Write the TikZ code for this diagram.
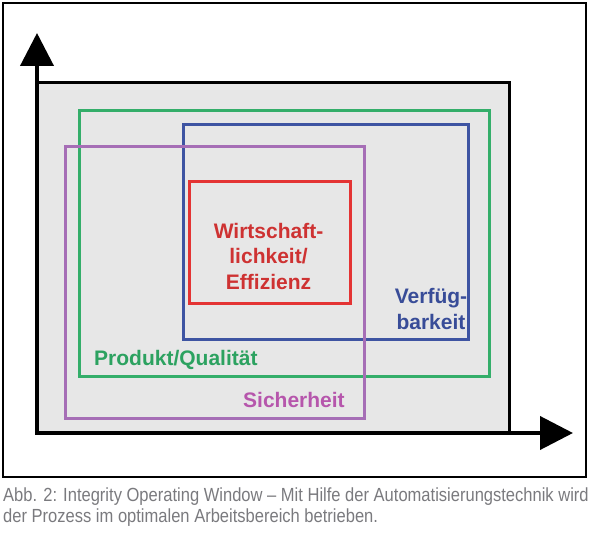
\documentclass[tikz,border=0pt]{standalone}
\usepackage{fontspec}
\setmainfont{Liberation Sans}
\newfontfamily\capfont[FakeStretch=0.87]{Liberation Sans}
\usetikzlibrary{arrows.meta}
\definecolor{gruen}{RGB}{52,174,106}
\definecolor{gruentext}{RGB}{44,162,96}
\definecolor{blau}{RGB}{62,84,162}
\definecolor{blautext}{RGB}{56,76,152}
\definecolor{lila}{RGB}{166,110,182}
\definecolor{lilatext}{RGB}{182,86,172}
\definecolor{rot}{RGB}{228,52,52}
\definecolor{rottext}{RGB}{206,50,50}
\definecolor{grau}{RGB}{231,231,231}
\definecolor{textgrau}{RGB}{122,122,126}

\begin{document}
\begin{tikzpicture}[x=1pt,y=-1pt,
       feld/.style={line width=3pt},
       beschr/.style={font=\bfseries\fontsize{21}{25.5}\selectfont,inner sep=0pt}]
       \useasboundingbox(0,0)rectangle(594,540);
       \draw[line width=1.2pt](3,3)rectangle(586,477);%枠

       \coordinate(O)at(37,433);%原点O
       \coordinate(XL)at(573,433);%x軸最大
       \coordinate(YL)at(37,33);%y軸最大
       \coordinate(E)at(509,83);%右上の角
       \fill[grau](O)rectangle(E);%背景
       \draw[line width=3pt](O|-E)--(E)--(E|-O);%上辺と右辺
       \draw[line width=4pt,{Triangle[length=33pt,width=33pt]}-{Triangle[length=33pt,width=33pt]}]
           (YL)--(O)--(XL);%y軸,x軸

       \draw[feld,gruen](79,111)rectangle(489,376);%製品/品質
       \draw[feld,blau](183,125)rectangle(468,339);%可用性
       \draw[feld,lila](65,147)rectangle(364,418);%安全性
       \draw[feld,rot](189,182)rectangle(350,303);%経済性

       \node[beschr,rottext,align=center](wirt)at(268.5,256){Wirtschaft-\\lichkeit/\\Effizienz};
       \node[beschr,blautext,align=center](verf)at(431,309){Verfüg-\\barkeit};
       \node[beschr,gruentext,anchor=base west](prod)at(94,365){Produkt/Qualität};
       \node[beschr,lilatext,anchor=base west](sich)at(243,407){Sicherheit};

       \node[font=\capfont\fontsize{19}{21}\selectfont,textgrau,align=left,
           anchor=north west,inner sep=0pt](abb)at(3,488)
           {Abb. 2: Integrity Operating Window – Mit Hilfe der Automatisierungstechnik wird\\
            der Prozess im optimalen Arbeitsbereich betrieben.};%キャプション
      \end{tikzpicture}
\end{document}
